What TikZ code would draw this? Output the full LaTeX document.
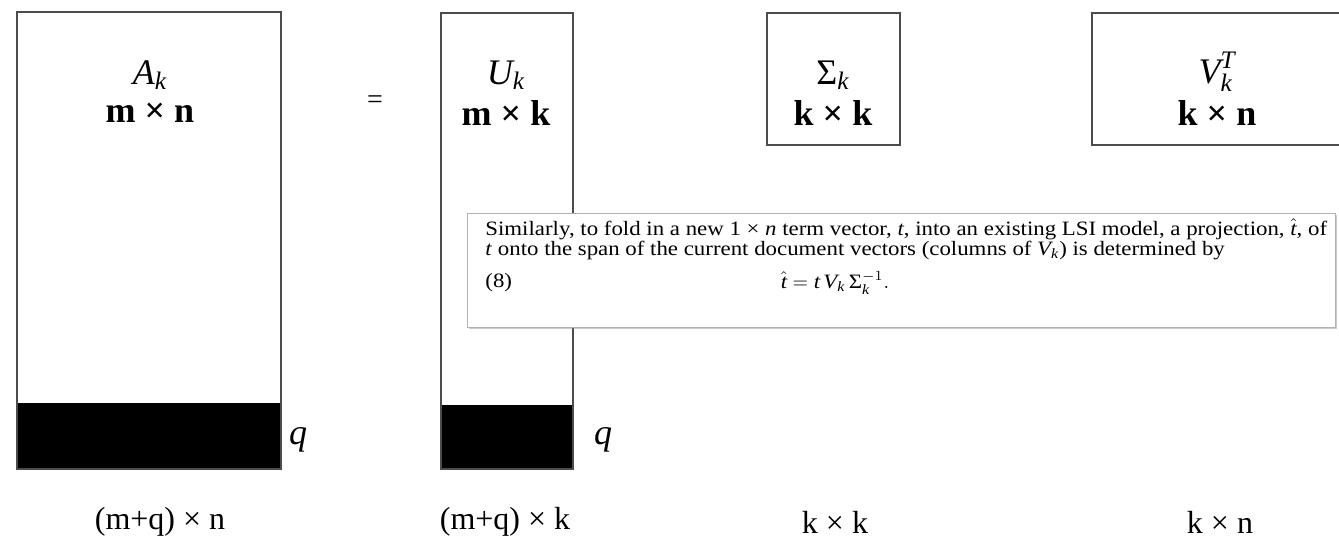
\documentclass[tikz,border=0pt]{standalone}
\usepackage{amsmath}
\usepackage{fontspec}
\setmainfont{Liberation Serif}
\newfontfamily\notefont[FakeStretch=1.12]{Liberation Serif}
\newcommand{\mi}[1]{\textit{#1}}
\newcommand{\gS}{\text{Σ}}
\usetikzlibrary{shadows}
\begin{document}
\begin{tikzpicture}[x=0.5pt,y=-0.5pt,
  mat/.style={draw=black!70,line width=0.8pt},
  band/.style={fill=black},
  toplab/.style={font=\fontsize{18}{20}\selectfont\bfseries,inner sep=0pt},
  sym/.style={font=\fontsize{18}{20}\selectfont,inner sep=0pt},
  botlab/.style={font=\fontsize{16}{18}\selectfont,inner sep=0pt},
  note/.style={draw=black!30,line width=0.5pt,fill=white,drop shadow={shadow xshift=1pt,shadow yshift=-1pt,opacity=0.4},inner sep=0pt},
  notefnt/.style={font=\notefont\fontsize{10.2}{10}\selectfont,inner sep=0pt},
  notetext/.style={notefnt,align=left,anchor=north west}
]
\useasboundingbox (0,0) rectangle (1339,554);
% A_k
\fill[band] (17,403) rectangle (281,469);
\node[mat,minimum width=132pt,minimum height=228.5pt,inner sep=0pt] (A) at (149,240.75) {};
\node[sym] (Ak) at (150,75) {$\mi{A}_{\mi{k}}$};
\node[toplab] (Akd) at (150,113) {m × n};
\node[sym] (qA) at (298,440) {\itshape q};
\node[font=\fontsize{14}{16}\selectfont] (eq) at (375,102) {=};
% U_k
\fill[band] (441,405) rectangle (573,469);
\node[mat,minimum width=66pt,minimum height=228pt,inner sep=0pt] (U) at (507,241) {};
\node[sym] (Uk) at (506,75) {$\mi{U}_{\mi{k}}$};
\node[toplab] (Ukd) at (506,113) {m × k};
\node[sym] (qU) at (603,440) {\itshape q};
% Sigma_k
\node[mat,minimum width=66.5pt,minimum height=66pt,inner sep=0pt] (S) at (833.5,79) {};
\node[sym] (Sk) at (833,75) {$\gS_{\mi{k}}$};
\node[toplab] (Skd) at (833,113) {k × k};
% V_k^T
\coordinate (Vtr) at (1339,13);
\coordinate (Vbr) at (1339,145);
\draw[mat] (Vtr) -- (1092,13) -- (1092,145) -- (Vbr);
\node[sym] (Vk) at (1217,72) {$\mi{V}_{\mi{k}}^{\mi{T}}$};
\node[toplab] (Vkd) at (1217,113) {k × n};
% bottom dimensions
\node[botlab] (dA) at (160,522) {(m+q) × n};
\node[botlab] (dU) at (505,522) {(m+q) × k};
\node[botlab] (dS) at (835,522) {k × k};
\node[botlab] (dV) at (1220,522) {k × n};
% overlaid text box
\node[note,minimum width=434pt,minimum height=57pt] (box) at (901,270) {};
\node[notetext] (para) at (485,218) {Similarly, to fold in a new 1 × \mi{n} term vector, \mi{t}, into an existing LSI model, a projection, $\hat{\mi{t}}$, of\\\mi{t} onto the span of the current document vectors (columns of $\mi{V}_{\mi{k}}$) is determined by};
\node[notefnt,anchor=west] (num) at (485,283) {(8)};
\node[notefnt] (form) at (835,283) {$\hat{\mi{t}} = \mi{t}\,\mi{V}_{\mi{k}}\,\gS_{\mi{k}}^{-1}.$};
\end{tikzpicture}
\end{document}
